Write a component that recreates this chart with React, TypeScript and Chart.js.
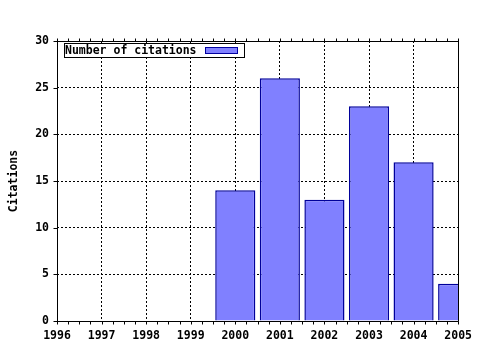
import React, { useEffect, useRef } from "react";
import { Chart, registerables } from "chart.js";

Chart.register(...registerables);

const years = ["1996", "1997", "1998", "1999", "2000", "2001", "2002", "2003", "2004", "2005"];
const citations = [0, 0, 0, 0, 14, 26, 13, 23, 17, 4];
const seriesLabel = "Number of citations";
const yTicks = [0, 5, 10, 15, 20, 25, 30];

const FONT = { family: "'DejaVu Sans Mono', monospace", size: 11.5, weight: "bold" as const };

const framePlugin = {
  id: "frame",
  afterDraw(chart: any) {
    const { ctx, chartArea: a, scales } = chart;
    const x = scales.x;
    const y = scales.y;
    ctx.save();
    ctx.strokeStyle = "#000";
    ctx.lineWidth = 1;
    ctx.setLineDash([]);
    const L = Math.round(a.left) + 0.5;
    const R = Math.round(a.right) + 0.5;
    const T = Math.round(a.top) + 0.5;
    const B = Math.round(a.bottom) + 0.5;
    ctx.beginPath();
    ctx.rect(L, T, R - L, B - T);
    ctx.stroke();
    ctx.beginPath();
    for (let i = 0; i < years.length; i++) {
      for (let k = 0; k < 4; k++) {
        const v = i + k / 4;
        if (v > years.length - 1) break;
        const px = Math.round(x.getPixelForValue(v)) + 0.5;
        ctx.moveTo(px, B);
        ctx.lineTo(px, B + 3);
        ctx.moveTo(px, T);
        ctx.lineTo(px, T - 3);
      }
    }
    for (const t of yTicks) {
      const py = Math.round(y.getPixelForValue(t)) + 0.5;
      ctx.moveTo(L - 4, py);
      ctx.lineTo(L, py);
    }
    ctx.stroke();
    const lx = 64, ly = 43;
    ctx.font = `bold ${FONT.size}px ${FONT.family}`;
    const tw = ctx.measureText(seriesLabel).width;
    const sw = 32;
    const bw = Math.round(tw + 8 + sw + 8);
    ctx.fillStyle = "#fff";
    ctx.fillRect(lx, ly, bw, 14);
    ctx.strokeRect(lx + 0.5, ly + 0.5, bw, 14);
    ctx.fillStyle = "#000";
    ctx.textBaseline = "middle";
    ctx.textAlign = "left";
    ctx.fillText(seriesLabel, lx + 1, ly + 8);
    const sx = Math.round(lx + 1 + tw + 8);
    ctx.fillStyle = "#8080ff";
    ctx.fillRect(sx, ly + 4, sw, 6);
    ctx.strokeStyle = "#0000a0";
    ctx.strokeRect(sx + 0.5, ly + 4.5, sw, 6);
    ctx.restore();
  },
};

export default function App() {
  const ref = useRef<HTMLCanvasElement | null>(null);
  useEffect(() => {
    if (!ref.current) return;
    const chart = new Chart(ref.current, {
      type: "bar",
      data: {
        labels: years,
        datasets: [
          {
            label: seriesLabel,
            data: citations,
            backgroundColor: "#8080ff",
            borderColor: "#00009a",
            borderWidth: 1.5,
            barPercentage: 0.9,
            categoryPercentage: 1,
          },
        ],
      },
      options: {
        animation: false,
        responsive: false,
        maintainAspectRatio: false,
        layout: { padding: { top: 41, right: 21, left: 0, bottom: 0 } },
        plugins: { legend: { display: false }, tooltip: { enabled: false }, title: { display: false } },
        scales: {
          x: {
            offset: false,
            grid: { display: true, color: "#000", lineWidth: 1, drawTicks: false, offset: false },
            border: { display: false, dash: [2, 2] },
            ticks: { color: "#000", font: FONT, padding: 8, maxRotation: 0, autoSkip: false },
            afterFit: (s: any) => {
              s.height = 29;
            },
          },
          y: {
            min: 0,
            max: 30,
            grid: { color: "#000", lineWidth: 1, drawTicks: false },
            border: { display: false, dash: [2, 2] },
            ticks: { stepSize: 5, color: "#000", font: FONT, padding: 8 },
            title: { display: true, text: "Citations", color: "#000", font: FONT, padding: { top: 7, bottom: 4 } },
            afterFit: (s: any) => {
              s.width = 57;
            },
          },
        },
      },
      plugins: [framePlugin],
    });
    return () => chart.destroy();
  }, []);
  return (
    <div style={{ position: "absolute", left: 0, top: 0, width: 480, height: 350, background: "#fff" }}>
      <canvas ref={ref} width={480} height={350} style={{ width: 480, height: 350, display: "block" }} />
    </div>
  );
}
